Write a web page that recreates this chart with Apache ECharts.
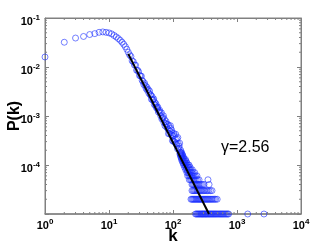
<!DOCTYPE html>
<html>
<head>
<meta charset="utf-8">
<script src="https://cdn.jsdelivr.net/npm/echarts@6/dist/echarts.min.js"></script>
<style>html,body{margin:0;padding:0;background:#fff;}#c{width:332px;height:250px;}</style>
</head>
<body>
<div id="c"></div>
<script>
// Degree distribution body: degree k and P(k)
const degree = [1,2,3,4,5,6,7,8,9,10,11,12,13,14,15,16,17,18,19,20,
  21,22,23,24,25,26,27,28,29,30,31,32,33,34,35,36,37,38,39,40,
  41,42,43,44,45,46,47,48,49,50,51,52,53,54,55,56,57,58,59,60,
  62,63,64,66,67,68,70,71,72,74,75,76,78,79,80,
  82,84,85,86,88,90,91,92,94,95,96,98,100,101,103,105,106,109,110,112,114,115,118,119,121,124,125,127,128,130];
const prob = [0.016,0.032,0.039,0.042,0.046,0.048,0.051,0.052,0.051,0.0497,0.0474,0.044,0.041,0.038,0.035,0.032,0.029,0.026,0.023,0.020,
  0.01771,0.01643,0.01335,0.01281,0.01100,0.01089,0.00860,0.00858,0.00801,0.00669,0.00658,0.00650,0.00534,0.00506,0.00438,0.00467,0.00416,0.00362,0.00388,0.00332,
  0.003490,0.002921,0.003228,0.002710,0.002677,0.002202,0.002503,0.002113,0.002145,0.002232,0.001723,0.001881,0.001671,0.001786,0.001483,0.001551,0.001415,0.001517,0.001207,0.001267,
  0.001306,0.001169,0.001023,0.001162,0.000867,0.000915,0.000930,0.001006,0.000736,0.000843,0.000632,0.000701,0.000770,0.000695,0.000586,
  6.76e-4,5.28e-4,4.36e-4,6.40e-4,4.37e-4,4.95e-4,6.34e-4,5.62e-4,4.13e-4,5.18e-4,4.59e-4,3.15e-4,3.94e-4,3.05e-4,4.39e-4,3.99e-4,2.95e-4,3.38e-4,4.25e-4,2.74e-4,2.56e-4,3.45e-4,2.13e-4,3.63e-4,2.70e-4,2.20e-4,2.42e-4,2.79e-4,1.69e-4,1.82e-4];

// Tail: quantized probability levels and the degrees observed at each level
const tailLevels = [1e-5,2e-5,3e-5,4e-5,5e-5,6e-5,7e-5,8e-5,9e-5,1.0e-4,1.1e-4,1.2e-4,1.3e-4,1.4e-4,1.5e-4,1.6e-4,1.7e-4,1.8e-4,2.0e-4];
const tailDegrees = [
  [225,232,240,247,255,262,270,278,285,293,300,310,318,327,335,345,356,367,378,390,402,415,428,442,456,470,486,502,520,538,556,575,595,616,640,665,690,715,740,1470,2640],
  [191,198,205,212,219,226,234,242,250,258,266,275,284,294,304,315,326,338,350,363,377,392,408,425,445,465,490],
  [198,206,214,222,231,240,249,258,268,279,290,302,315,330,346,363,385,407],
  [198,205,212,220,228,236,245,255,266,278,291,305,366],
  [180,188,195,203,211,220,230,242,255,352],
  [170,178,186,194,203,213,224,237],
  [165,172,180,188,197,207,218],
  [158,165,173,181,190,200],
  [152,160,168,176,185],
  [147,154,162,170,178],
  [143,150,157,165],
  [139,145,152,160],
  [136,142,149,156],
  [134,140,146],
  [132,137,144],
  [131,135,141],
  [133,138],
  [131,136],
  [132]
];

// Power-law fit line endpoints
const fitK = [20, 365];
const fitP = [0.0185, 1.0e-5];
const gammaLabel = 'γ=2.56';

// Minor tick positions
const minorTickK = [2,3,4,5,6,7,8,9,20,30,40,50,60,70,80,90,200,300,400,500,600,700,800,900,2000,3000,4000,5000,6000,7000,8000,9000];
const minorTickP = [2e-5,3e-5,4e-5,5e-5,6e-5,7e-5,8e-5,9e-5,2e-4,3e-4,4e-4,5e-4,6e-4,7e-4,8e-4,9e-4,2e-3,3e-3,4e-3,5e-3,6e-3,7e-3,8e-3,9e-3,2e-2,3e-2,4e-2,5e-2,6e-2,7e-2,8e-2,9e-2];

const pts = degree.map((k, i) => [k, prob[i]]);
tailDegrees.forEach((ks, j) => ks.forEach(k => pts.push([k, tailLevels[j]])));

const axisGray = '#808080';
const FONT = 'Liberation Sans, Arial, Helvetica, sans-serif';
const rich = {
  b: { fontSize: 11, fontWeight: 'bold', color: '#000', fontFamily: FONT },
  s: { fontSize: 8, fontWeight: 'bold', color: '#000', fontFamily: FONT, padding: [0, 0, 8, 0] }
};
function powLabel(v) {
  const e = Math.round(Math.log10(v));
  return '{b|10}{s|' + e + '}';
}

const chart = echarts.init(document.getElementById('c'), null, { renderer: 'canvas' });
const tickCommon = { show: true, inside: true, length: 4, lineStyle: { color: axisGray, width: 1 } };
chart.setOption({
  animation: false,
  backgroundColor: '#fff',
  grid: { left: 45, right: 31, top: 18, bottom: 36, show: true, borderColor: axisGray, borderWidth: 1,
          containLabel: false, outerBoundsMode: 'none' },
  xAxis: [
    { type: 'log', logBase: 10, min: 1, max: 10000, splitNumber: 4,
      axisLine: { show: true, lineStyle: { color: axisGray, width: 1.5 } },
      axisTick: tickCommon, splitLine: { show: false },
      axisLabel: { formatter: powLabel, rich: rich, margin: 4 },
      name: 'k', nameLocation: 'middle', nameGap: 14, nameMoveOverlap: false,
      nameTextStyle: { fontSize: 17, fontWeight: 'bold', color: '#000', fontFamily: FONT } },
    { type: 'log', logBase: 10, min: 1, max: 10000, splitNumber: 4, position: 'top',
      axisLine: { show: true, lineStyle: { color: axisGray, width: 1 } },
      axisTick: tickCommon, splitLine: { show: false }, axisLabel: { show: false } }
  ],
  yAxis: [
    { type: 'log', logBase: 10, min: 1e-5, max: 1e-1, splitNumber: 4,
      axisLine: { show: true, lineStyle: { color: axisGray, width: 1 } },
      axisTick: tickCommon, splitLine: { show: false },
      axisLabel: { formatter: function (v) { return Math.round(Math.log10(v)) === -5 ? '' : powLabel(v); },
                   rich: rich, margin: 5, padding: [8, 0, 0, 0] },
      name: 'P(k)', nameLocation: 'middle', nameGap: 22, nameRotate: 90, nameMoveOverlap: false,
      nameTextStyle: { fontSize: 16, fontWeight: 'bold', color: '#000', fontFamily: FONT } },
    { type: 'log', logBase: 10, min: 1e-5, max: 1e-1, splitNumber: 4, position: 'right',
      axisLine: { show: true, lineStyle: { color: axisGray, width: 1 } },
      axisTick: tickCommon, splitLine: { show: false }, axisLabel: { show: false } }
  ],
  series: [
    { type: 'scatter', xAxisIndex: 0, yAxisIndex: 0, data: pts, symbol: 'circle', symbolSize: 6, clip: false,
      itemStyle: { color: 'rgba(0,0,0,0)', borderColor: 'rgba(25,45,255,0.75)', borderWidth: 1 }, z: 2, silent: true },
    { type: 'line', xAxisIndex: 0, yAxisIndex: 0, data: fitK.map((k, i) => [k, fitP[i]]), symbol: 'none', clip: false,
      lineStyle: { color: '#000', width: 2 }, z: 3, silent: true },
    { type: 'custom', xAxisIndex: 0, yAxisIndex: 0, data: minorTickK.map(k => [k, 1e-3]), clip: false, silent: true, z: 4,
      renderItem: function (params, api) {
        const p = api.coord([api.value(0), api.value(1)]);
        const cs = params.coordSys;
        const st = { stroke: axisGray, lineWidth: 1 };
        return { type: 'group', children: [
          { type: 'line', shape: { x1: p[0], y1: cs.y + cs.height, x2: p[0], y2: cs.y + cs.height - 2 }, style: st },
          { type: 'line', shape: { x1: p[0], y1: cs.y, x2: p[0], y2: cs.y + 2 }, style: st }
        ] };
      } },
    { type: 'custom', xAxisIndex: 0, yAxisIndex: 0, data: minorTickP.map(v => [10, v]), clip: false, silent: true, z: 4,
      renderItem: function (params, api) {
        const p = api.coord([api.value(0), api.value(1)]);
        const cs = params.coordSys;
        const st = { stroke: axisGray, lineWidth: 1 };
        return { type: 'group', children: [
          { type: 'line', shape: { x1: cs.x, y1: p[1], x2: cs.x + 2, y2: p[1] }, style: st },
          { type: 'line', shape: { x1: cs.x + cs.width, y1: p[1], x2: cs.x + cs.width - 2, y2: p[1] }, style: st }
        ] };
      } }
  ],
  graphic: [
    { type: 'text', left: 221, top: 140, z: 10, silent: true,
      style: { text: gammaLabel, fontSize: 16, fontFamily: FONT, fill: '#000' } }
  ]
});
</script>
</body>
</html>
